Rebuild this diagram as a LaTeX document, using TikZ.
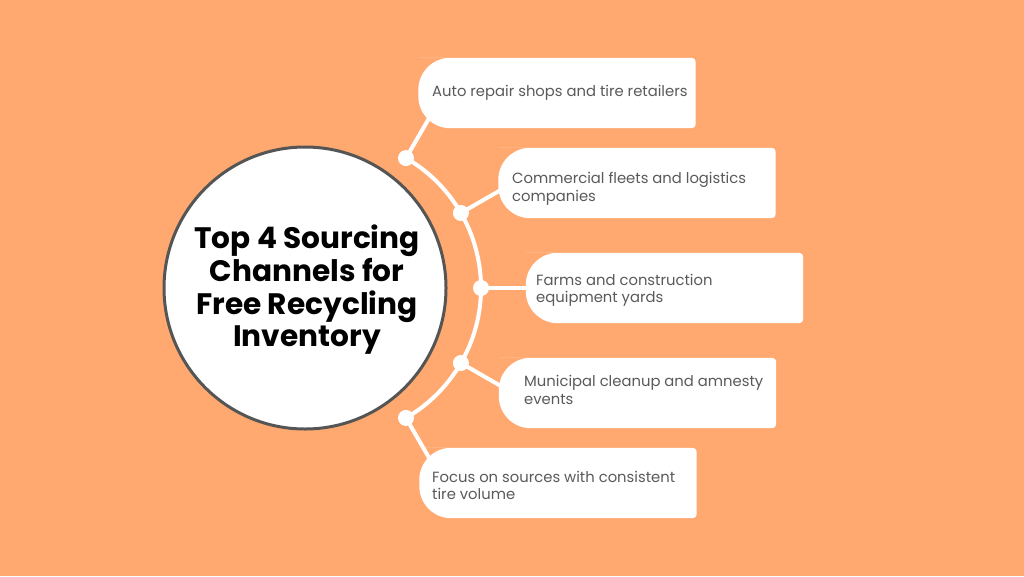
\documentclass[tikz,border=0pt]{standalone}
\usepackage{fontspec}
\setmainfont{Poppins}
\usetikzlibrary{calc}
\pgfdeclarelayer{bg}
\pgfdeclarelayer{canvas}
\pgfsetlayers{canvas,bg,main}
\definecolor{bgorange}{HTML}{FFA970}
\definecolor{txtgray}{HTML}{5A5A5A}
\definecolor{ringgray}{HTML}{555555}
\tikzset{
  dotnode/.style={circle, fill=white, minimum size=16pt, inner sep=0pt},
  boxframe/.style={rectangle, inner sep=0pt, minimum width=277pt, minimum height=70pt},
  boxtext/.style={anchor=west, inner sep=0pt, text=txtgray, font=\fontsize{14.8}{17.5}\selectfont, align=left},
  link/.style={white, line width=4pt},
}
\newcommand{\pillbox}[1]{%
  \fill[white, rounded corners=4pt] ($(#1.north west)+(32,0)$) -- (#1.north east) -- (#1.south east) -- ($(#1.south west)+(32,0)$) [rounded corners=32pt] -- (#1.south west) -- (#1.north west) -- cycle;}
\begin{document}
\begin{tikzpicture}[x=1pt, y=-1pt]
\begin{pgfonlayer}{canvas}
\fill[bgorange] (0,0) rectangle (1024,576);
\end{pgfonlayer}
\useasboundingbox (0,0) rectangle (1024,576);

% arc centre
\coordinate (ac) at (331,288);

% boxes
\node[boxframe] (b1) at (557,93) {};
\node[boxframe] (b2) at (637,183) {};
\node[boxframe] (b3) at (664.5,288) {};
\node[boxframe] (b4) at (637.5,393) {};
\node[boxframe] (b5) at (558,483) {};
\foreach \b in {b1,b2,b3,b4,b5} {\pillbox{\b}}

% dots
\node[dotnode] (d1) at ($(ac)+(-60:150)$) {};
\node[dotnode] (d2) at ($(ac)+(-30:150)$) {};
\node[dotnode] (d3) at ($(ac)+(0:150)$) {};
\node[dotnode] (d4) at ($(ac)+(30:150)$) {};
\node[dotnode] (d5) at ($(ac)+(60:150)$) {};

% connector ends inside boxes
\coordinate (e1) at ($(ac)+(-60:205)$);
\coordinate (e2) at ($(ac)+(-30:205)$);
\coordinate (e3) at ($(ac)+(0:210)$);
\coordinate (e4) at ($(ac)+(30:205)$);
\coordinate (e5) at ($(ac)+(60:205)$);

\begin{pgfonlayer}{bg}
  \draw[link] ($(ac)+(-60:150)$) arc[start angle=-60, end angle=60, radius=150];
  \draw[link] (d1.center) -- (e1);
  \draw[link] (d2.center) -- (e2);
  \draw[link] (d3.center) -- (e3);
  \draw[link] (d4.center) -- (e4);
  \draw[link] (d5.center) -- (e5);
\end{pgfonlayer}

% texts
\node[boxtext] (t1) at (432,93) {Auto repair shops and tire retailers};
\node[boxtext] (t2) at (512,189) {Commercial fleets and logistics\\companies};
\node[boxtext] (t3) at (536,290.5) {Farms and construction\\equipment yards};
\node[boxtext] (t4) at (524,390) {Municipal cleanup and amnesty\\events};
\node[boxtext] (t5) at (432,485.5) {Focus on sources with consistent\\tire volume};

% central circle
\node[circle, fill=white, draw=ringgray, line width=3pt, minimum size=282pt, inner sep=0pt] (hub) at (305,288) {};
\node[font=\bfseries\fontsize{29.6}{32.7}\selectfont, align=center, text=black] (title) at (307,290) {Top 4 Sourcing\\Channels for\\Free Recycling\\Inventory};
\end{tikzpicture}
\end{document}
